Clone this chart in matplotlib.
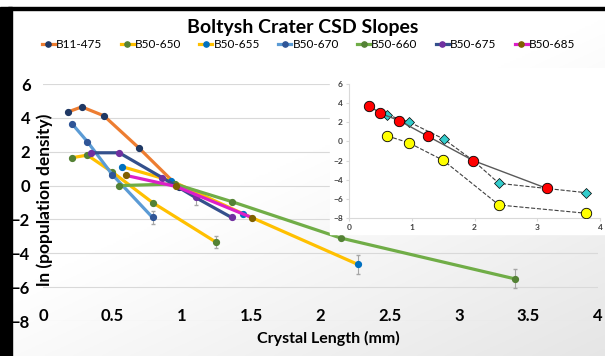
# Boltysh Crater CSD slopes - main chart with inset
import numpy as np
import matplotlib.pyplot as plt
from matplotlib.patches import Rectangle

plt.rcParams['font.family'] = ['Lato', 'DejaVu Sans']

# MAIN CHART DATA (crystal length mm, ln population density)
b11_475_x = [0.18, 0.28, 0.44, 0.69, 0.98]
b11_475_y = [4.35, 4.65, 4.12, 2.24, -0.10]
b11_475_err = [0, 0, 0, 0, 0]

b50_650_x = [0.21, 0.32, 0.50, 0.79, 1.25]
b50_650_y = [1.65, 1.80, 0.80, -1.00, -3.35]
b50_650_err = [0, 0, 0, 0, 0.35]

b50_655_x = [0.57, 0.92, 1.44, 2.27]
b50_655_y = [1.12, 0.30, -1.65, -4.65]
b50_655_err = [0, 0, 0, 0.55]

b50_670_x = [0.21, 0.32, 0.50, 0.79]
b50_670_y = [3.65, 2.60, 0.65, -1.88]
b50_670_err = [0, 0, 0, 0.40]

b50_660_x = [0.55, 0.95, 1.36, 2.15, 3.40]
b50_660_y = [0.00, 0.10, -0.94, -3.10, -5.50]
b50_660_err = [0, 0, 0, 0, 0.55]

b50_675_x = [0.35, 0.55, 0.86, 1.10, 1.36]
b50_675_y = [1.94, 1.94, 0.47, -0.70, -1.88]
b50_675_err = [0, 0, 0, 0.45, 0]

b50_685_x = [0.60, 0.96, 1.51]
b50_685_y = [0.60, -0.05, -1.90]
b50_685_err = [0, 0, 0]

series = [
    ("B11-475", b11_475_x, b11_475_y, b11_475_err, "#ED7D31", "#1F3864"),
    ("B50-650", b50_650_x, b50_650_y, b50_650_err, "#FFC000", "#548235"),
    ("B50-655", b50_655_x, b50_655_y, b50_655_err, "#FFC000", "#0070C0"),
    ("B50-670", b50_670_x, b50_670_y, b50_670_err, "#5B9BD5", "#2F5597"),
    ("B50-660", b50_660_x, b50_660_y, b50_660_err, "#70AD47", "#548235"),
    ("B50-675", b50_675_x, b50_675_y, b50_675_err, "#34508C", "#7030A0"),
    ("B50-685", b50_685_x, b50_685_y, b50_685_err, "#DC1FC8", "#7F6000"),
]

# INSET DATA
red_x = [0.32, 0.50, 0.80, 1.26, 1.98, 3.15]
red_y = [3.73, 2.94, 2.17, 0.53, -2.00, -4.90]
cyan_x = [0.61, 0.96, 1.51, 1.98, 2.39, 3.77]
cyan_y = [2.76, 2.03, 0.25, -2.00, -4.38, -5.35]
yellow_x = [0.61, 0.95, 1.50, 2.39, 3.77]
yellow_y = [0.57, -0.13, -1.97, -6.64, -7.50]


fig = plt.figure(figsize=(6.05, 3.56), dpi=100)

# soft background gradient, white top-left to light grey bottom-right
bg = fig.add_axes([0, 0, 1, 1], zorder=-5)
gx, gy = np.meshgrid(np.linspace(0, 1, 200), np.linspace(0, 1, 200))
shade = 1 - 0.10 * np.clip((gx * 0.7 + gy * 0.9) - 0.75, 0, 1) / 0.85
bg.imshow(np.dstack([shade, shade, shade]), extent=[0, 1, 0, 1],
          aspect="auto", origin="upper")
bg.set_xlim(0, 1)
bg.set_ylim(0, 1)
bg.axis("off")

# black frame on left and top
fig.patches.append(Rectangle((0, 0), 12 / 605, 1 - 7 / 356, transform=fig.transFigure,
                             color="black", zorder=3))
fig.patches.append(Rectangle((8 / 605, 1 - 10 / 356), 1, 3 / 356, transform=fig.transFigure,
                             color="black", zorder=3))

ax = fig.add_axes([0.071, 0.098, 0.917, 0.666])
ax.set_facecolor("none")

for name, xs, ys, err, line_col, mark_col in series:
    ax.errorbar(xs, ys, yerr=err, color=line_col, linewidth=2.3,
                marker="o", markersize=4.2, markerfacecolor=mark_col,
                markeredgecolor=mark_col, ecolor="#A6A6A6", elinewidth=0.8,
                capsize=1.5, label=name)

ax.set_xlim(0, 4)
ax.set_ylim(-8, 6)
ax.set_yticks(np.arange(-8, 7, 2))
ax.set_xticks([0, 0.5, 1, 1.5, 2, 2.5, 3, 3.5, 4])
ax.set_xticklabels(["0", "0.5", "1", "1.5", "2", "2.5", "3", "3.5", "4"])
ax.grid(axis="y", color="#D9D9D9", linewidth=0.8)
ax.set_axisbelow(True)
for s in ax.spines.values():
    s.set_visible(False)
ax.tick_params(length=0, labelsize=12)
ax.tick_params(axis="x", pad=-4)
ax.tick_params(axis="y", pad=9)
for lab in ax.get_xticklabels():
    lab.set_fontweight("bold")
    lab.set_va("center")
for lab in ax.get_yticklabels():
    lab.set_fontweight("bold")

ax.set_xlabel("Crystal Length (mm)", fontsize=11.5, fontweight="bold")
ax.xaxis.set_label_coords(0.515, -0.04)
# the y title sits between the tick labels and the data, as in the original
ax.set_ylabel("ln (population density)", fontsize=12.5, fontweight="bold")
ax.yaxis.set_label_coords(0.018, 0.51)

fig.text(0.5, 1 - 27 / 356, "Boltysh Crater CSD Slopes", ha="center", va="center",
         fontsize=14, fontweight="bold")

handles, labels = ax.get_legend_handles_labels()
handles = [h[0] for h in handles]
fig.legend(handles, labels, loc="center", bbox_to_anchor=(0.51, 1 - 45 / 356), ncol=7,
           frameon=False, fontsize=8.5, handlelength=1.1, handletextpad=0.1,
           columnspacing=1.55, markerscale=0.9)

# white panel behind the inset
fig.patches.append(Rectangle((330 / 605, 1 - 234 / 356), 275 / 605, 166 / 356,
                             transform=fig.transFigure, color="white", zorder=1))

ins = fig.add_axes([349 / 605, 1 - 218 / 356, 251 / 605, 134 / 356], zorder=2)
ins.plot(red_x, red_y, color="#595959", linewidth=1.0, marker="o", markersize=7.5,
         markerfacecolor="#FF0000", markeredgecolor="black", markeredgewidth=0.6, zorder=4)
ins.plot(cyan_x, cyan_y, color="#404040", linewidth=0.8, linestyle="--", marker="D",
         markersize=5.5, markerfacecolor="#33CCCC", markeredgecolor="black",
         markeredgewidth=0.5, zorder=3, markevery=[0, 1, 2, 4, 5])
ins.plot(yellow_x, yellow_y, color="#404040", linewidth=0.8, linestyle="--", marker="o",
         markersize=7.5, markerfacecolor="#FFFF00", markeredgecolor="black",
         markeredgewidth=0.6, zorder=3)
ins.set_xlim(0, 4)
ins.set_ylim(-8, 6)
ins.set_xticks([0, 1, 2, 3, 4])
ins.set_yticks(np.arange(-8, 7, 2))
ins.spines["top"].set_visible(False)
ins.spines["right"].set_visible(False)
ins.spines["left"].set_color("#D9D9D9")
ins.spines["bottom"].set_color("#D9D9D9")
ins.tick_params(labelsize=6, length=2.5, color="#D9D9D9", pad=2)
for lab in ins.get_xticklabels() + ins.get_yticklabels():
    lab.set_fontweight("bold")
    lab.set_color("#404040")

fig.savefig("out.png", dpi=100)
